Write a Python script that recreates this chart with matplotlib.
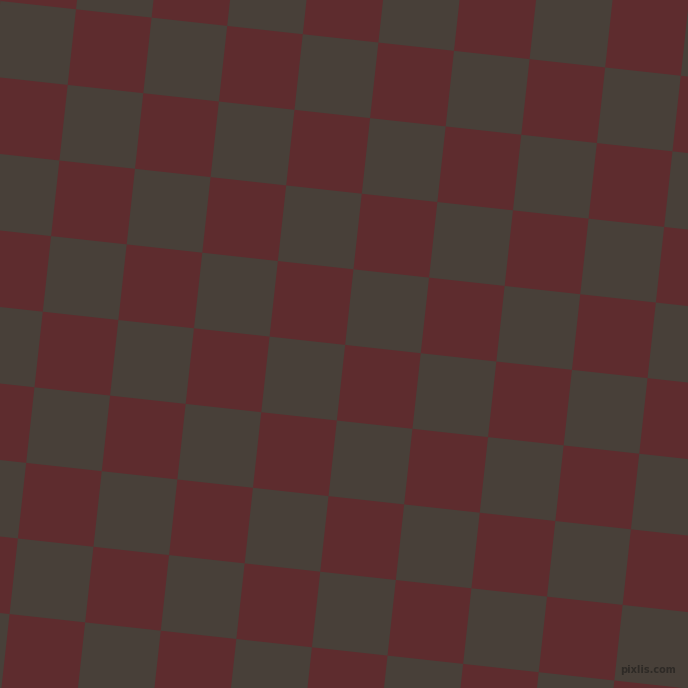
import numpy as np
from matplotlib import pyplot as plt
from matplotlib.transforms import Affine2D

# two tile colours of the board
maroon = "#5e2c2e"
grey = "#484039"
watermark = "pixlis.com"

# board cells, 1 = maroon, 0 = grey, laid out as a checker
rows = 14
cols = 14
cells = np.array([[(r + c + 1) % 2 for c in range(cols)] for r in range(rows)])

fig = plt.figure(figsize=(6.88, 6.88), dpi=100)
ax = fig.add_axes([0, 0, 1, 1])
ax.set_xlim(0, 688)
ax.set_ylim(688, 0)
ax.set_facecolor(grey)
fig.patch.set_facecolor(grey)
ax.set_xticks([])
ax.set_yticks([])
for s in ax.spines.values():
    s.set_visible(False)

# tile side, tilt and where the cell (0,0) corner sits
side = 76.05
angle = 6.27
ox, oy = 76.0, 9.3

tr = Affine2D().translate(-3, -3).rotate_deg(angle).scale(side).translate(ox, oy) + ax.transData

# only the maroon cells are drawn, grey is the background
for r in range(rows):
    for c in range(cols):
        if cells[r, c] == 1:
            ax.add_patch(plt.Rectangle((c, r), 1, 1, facecolor=maroon, edgecolor="none",
                                       antialiased=True, transform=tr))

ax.text(648, 670, watermark, fontsize=7, color="#2e2a26", ha="center", va="center",
        fontweight="bold")

fig.savefig("out.png", dpi=100, facecolor=grey)
